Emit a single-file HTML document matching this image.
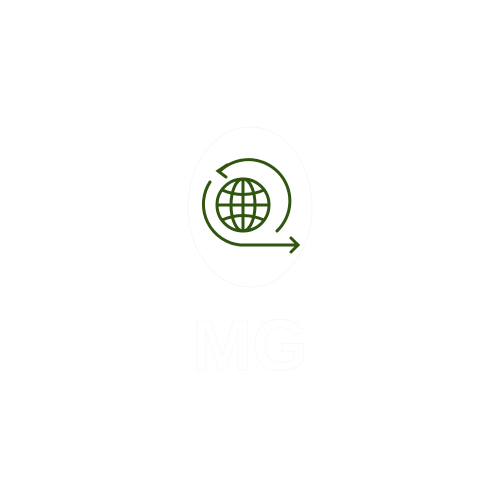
<!DOCTYPE html>
<html><head><meta charset="utf-8"><style>
html,body{margin:0;padding:0;background:#fff;width:500px;height:500px;overflow:hidden}
</style></head><body>
<svg width="500" height="500" viewBox="0 0 500 500">
  <ellipse cx="250" cy="207" rx="62" ry="80" fill="#fff" stroke="#f7f7f7" stroke-width="1"/>
  <g fill="none" stroke="#2f5510" stroke-width="3" stroke-linecap="round">
    <circle cx="243" cy="205" r="26"/>
    <ellipse cx="243" cy="205" rx="12" ry="26"/>
    <line x1="243" y1="179" x2="243" y2="231"/>
    <line x1="217" y1="205" x2="269" y2="205"/>
    <path d="M222 190 Q243 199 264 190"/>
    <path d="M222 220 Q243 211 264 220"/>
    <path d="M220 171 A41 41 0 0 1 277 231"/>
    <path d="M227 165 L218 171 L226 177"/>
    <path d="M210 182 A41 41 0 0 0 240 245 L298 245"/>
    <path d="M291 238 L298 245 L291 252"/>
  </g>
  <text x="250" y="370" text-anchor="middle" font-family="'Liberation Sans',sans-serif" font-weight="bold" font-size="72" fill="#ffffff" stroke="#f6f6f6" stroke-width="0.6">MG</text>
</svg>
</body></html>
